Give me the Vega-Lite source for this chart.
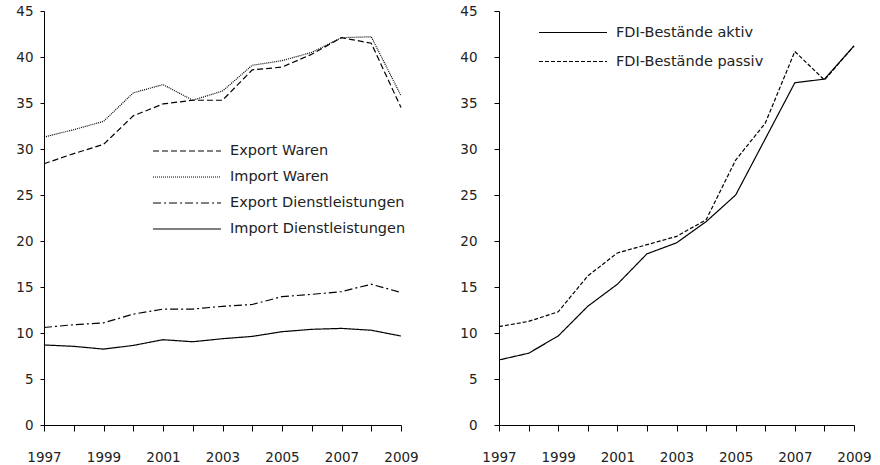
{
  "$schema": "https://vega.github.io/schema/vega-lite/v6.json",
  "autosize": {"type": "pad"},
  "padding": {"left": 15, "top": 4, "right": 0, "bottom": 0},
  "background": "white",
  "bounds": "flush",
  "spacing": 98,
  "config": {
    "view": {"stroke": null},
    "font": "DejaVu Sans",
    "axis": {"labelFont": "DejaVu Sans", "labelFontSize": 13.5, "labelColor": "#222", "domainColor": "black", "tickColor": "black", "grid": false, "title": null, "labelFlush": false, "labelOverlap": false},
    "legend": {"labelFont": "DejaVu Sans", "labelFontSize": 14.5, "labelColor": "#222"}
  },
  "datasets": {
    "trade": [
      {"year": 1997, "series": "Export Waren", "value": 28.4},
      {"year": 1998, "series": "Export Waren", "value": 29.5},
      {"year": 1999, "series": "Export Waren", "value": 30.5},
      {"year": 2000, "series": "Export Waren", "value": 33.6},
      {"year": 2001, "series": "Export Waren", "value": 34.9},
      {"year": 2002, "series": "Export Waren", "value": 35.3},
      {"year": 2003, "series": "Export Waren", "value": 35.3},
      {"year": 2004, "series": "Export Waren", "value": 38.6},
      {"year": 2005, "series": "Export Waren", "value": 38.9},
      {"year": 2006, "series": "Export Waren", "value": 40.3},
      {"year": 2007, "series": "Export Waren", "value": 42.1},
      {"year": 2008, "series": "Export Waren", "value": 41.5},
      {"year": 2009, "series": "Export Waren", "value": 34.5},
      {"year": 1997, "series": "Import Waren", "value": 31.3},
      {"year": 1998, "series": "Import Waren", "value": 32.1},
      {"year": 1999, "series": "Import Waren", "value": 33.0},
      {"year": 2000, "series": "Import Waren", "value": 36.1},
      {"year": 2001, "series": "Import Waren", "value": 37.0},
      {"year": 2002, "series": "Import Waren", "value": 35.3},
      {"year": 2003, "series": "Import Waren", "value": 36.3},
      {"year": 2004, "series": "Import Waren", "value": 39.1},
      {"year": 2005, "series": "Import Waren", "value": 39.6},
      {"year": 2006, "series": "Import Waren", "value": 40.5},
      {"year": 2007, "series": "Import Waren", "value": 42.1},
      {"year": 2008, "series": "Import Waren", "value": 42.2},
      {"year": 2009, "series": "Import Waren", "value": 35.8},
      {"year": 1997, "series": "Export Dienstleistungen", "value": 10.6},
      {"year": 1998, "series": "Export Dienstleistungen", "value": 10.9},
      {"year": 1999, "series": "Export Dienstleistungen", "value": 11.1},
      {"year": 2000, "series": "Export Dienstleistungen", "value": 12.05},
      {"year": 2001, "series": "Export Dienstleistungen", "value": 12.6},
      {"year": 2002, "series": "Export Dienstleistungen", "value": 12.6},
      {"year": 2003, "series": "Export Dienstleistungen", "value": 12.9},
      {"year": 2004, "series": "Export Dienstleistungen", "value": 13.1},
      {"year": 2005, "series": "Export Dienstleistungen", "value": 13.95},
      {"year": 2006, "series": "Export Dienstleistungen", "value": 14.2},
      {"year": 2007, "series": "Export Dienstleistungen", "value": 14.5},
      {"year": 2008, "series": "Export Dienstleistungen", "value": 15.3},
      {"year": 2009, "series": "Export Dienstleistungen", "value": 14.4},
      {"year": 1997, "series": "Import Dienstleistungen", "value": 8.7},
      {"year": 1998, "series": "Import Dienstleistungen", "value": 8.55},
      {"year": 1999, "series": "Import Dienstleistungen", "value": 8.25},
      {"year": 2000, "series": "Import Dienstleistungen", "value": 8.65},
      {"year": 2001, "series": "Import Dienstleistungen", "value": 9.27},
      {"year": 2002, "series": "Import Dienstleistungen", "value": 9.05},
      {"year": 2003, "series": "Import Dienstleistungen", "value": 9.38},
      {"year": 2004, "series": "Import Dienstleistungen", "value": 9.63},
      {"year": 2005, "series": "Import Dienstleistungen", "value": 10.14},
      {"year": 2006, "series": "Import Dienstleistungen", "value": 10.4},
      {"year": 2007, "series": "Import Dienstleistungen", "value": 10.5},
      {"year": 2008, "series": "Import Dienstleistungen", "value": 10.3},
      {"year": 2009, "series": "Import Dienstleistungen", "value": 9.67}
    ],
    "fdi": [
      {"year": 1997, "series": "FDI-Bestände aktiv", "value": 7.07},
      {"year": 1998, "series": "FDI-Bestände aktiv", "value": 7.8},
      {"year": 1999, "series": "FDI-Bestände aktiv", "value": 9.67},
      {"year": 2000, "series": "FDI-Bestände aktiv", "value": 12.9},
      {"year": 2001, "series": "FDI-Bestände aktiv", "value": 15.3},
      {"year": 2002, "series": "FDI-Bestände aktiv", "value": 18.6},
      {"year": 2003, "series": "FDI-Bestände aktiv", "value": 19.8},
      {"year": 2004, "series": "FDI-Bestände aktiv", "value": 22.1},
      {"year": 2005, "series": "FDI-Bestände aktiv", "value": 25.0},
      {"year": 2006, "series": "FDI-Bestände aktiv", "value": 31.1},
      {"year": 2007, "series": "FDI-Bestände aktiv", "value": 37.2},
      {"year": 2008, "series": "FDI-Bestände aktiv", "value": 37.6},
      {"year": 2009, "series": "FDI-Bestände aktiv", "value": 41.2},
      {"year": 1997, "series": "FDI-Bestände passiv", "value": 10.7},
      {"year": 1998, "series": "FDI-Bestände passiv", "value": 11.26},
      {"year": 1999, "series": "FDI-Bestände passiv", "value": 12.3},
      {"year": 2000, "series": "FDI-Bestände passiv", "value": 16.2},
      {"year": 2001, "series": "FDI-Bestände passiv", "value": 18.7},
      {"year": 2002, "series": "FDI-Bestände passiv", "value": 19.6},
      {"year": 2003, "series": "FDI-Bestände passiv", "value": 20.5},
      {"year": 2004, "series": "FDI-Bestände passiv", "value": 22.3},
      {"year": 2005, "series": "FDI-Bestände passiv", "value": 28.8},
      {"year": 2006, "series": "FDI-Bestände passiv", "value": 32.8},
      {"year": 2007, "series": "FDI-Bestände passiv", "value": 40.6},
      {"year": 2008, "series": "FDI-Bestände passiv", "value": 37.5},
      {"year": 2009, "series": "FDI-Bestände passiv", "value": 41.2}
    ]
  },
  "resolve": {"scale": {"strokeDash": "independent"}, "legend": {"strokeDash": "independent"}},
  "hconcat": [
    {
      "width": 357,
      "height": 414,
      "data": {"name": "trade"},
      "mark": {"type": "line", "color": "black", "strokeWidth": 1.2},
      "encoding": {
        "x": {"field": "year", "type": "quantitative",
          "scale": {"domain": [1997, 2009], "nice": false, "zero": false},
          "axis": {"values": [1997, 1998, 1999, 2000, 2001, 2002, 2003, 2004, 2005, 2006, 2007, 2008, 2009], "format": "d", "labelExpr": "datum.value % 2 == 1 ? datum.label : ''", "tickSize": 6, "labelPadding": 19}},
        "y": {"field": "value", "type": "quantitative",
          "scale": {"domain": [0, 45], "nice": false},
          "axis": {"values": [0, 5, 10, 15, 20, 25, 30, 35, 40, 45], "tickSize": 4, "labelPadding": 7}},
        "strokeDash": {"field": "series", "type": "nominal",
          "scale": {"domain": ["Export Waren", "Import Waren", "Export Dienstleistungen", "Import Dienstleistungen"],
                    "range": [[6, 3], [1, 1], [8, 3, 2, 3], [1, 0]]},
          "legend": {"orient": "none", "legendX": 108, "legendY": 127, "title": null, "symbolType": "stroke", "symbolSize": 4624, "symbolStrokeWidth": 1.2, "symbolStrokeColor": "black", "clipHeight": 26, "rowPadding": 0, "labelOffset": 8, "padding": 0, "labelLimit": 300}}
      }
    },
    {
      "width": 355,
      "height": 414,
      "data": {"name": "fdi"},
      "mark": {"type": "line", "color": "black", "strokeWidth": 1.2},
      "encoding": {
        "x": {"field": "year", "type": "quantitative",
          "scale": {"domain": [1997, 2009], "nice": false, "zero": false},
          "axis": {"values": [1997, 1998, 1999, 2000, 2001, 2002, 2003, 2004, 2005, 2006, 2007, 2008, 2009], "format": "d", "labelExpr": "datum.value % 2 == 1 ? datum.label : ''", "tickSize": 6, "labelPadding": 19}},
        "y": {"field": "value", "type": "quantitative",
          "scale": {"domain": [0, 45], "nice": false},
          "axis": {"values": [0, 5, 10, 15, 20, 25, 30, 35, 40, 45], "tickSize": 5, "labelPadding": 17}},
        "strokeDash": {"field": "series", "type": "nominal",
          "scale": {"domain": ["FDI-Bestände aktiv", "FDI-Bestände passiv"],
                    "range": [[1, 0], [4, 2]]},
          "legend": {"orient": "none", "legendX": 39, "legendY": 7, "title": null, "symbolType": "stroke", "symbolSize": 4624, "symbolStrokeWidth": 1.2, "symbolStrokeColor": "black", "clipHeight": 29, "rowPadding": 0, "labelOffset": 8, "padding": 0, "labelLimit": 300}}
      }
    }
  ]
}
